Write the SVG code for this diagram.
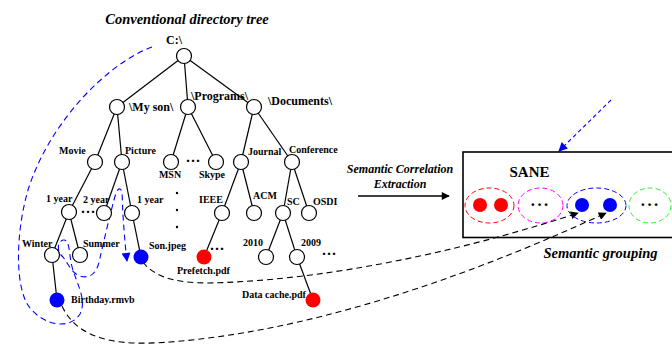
<svg xmlns="http://www.w3.org/2000/svg" width="672" height="344" viewBox="0 0 672 344">
<defs>
<style>
text{font-family:"Liberation Serif","Times New Roman",serif;font-weight:bold;fill:#000}
.t10{font-size:10px}
.t12{font-size:12px}
.ti{font-style:italic}
.n{fill:#fff;stroke:#000;stroke-width:1.2}
.e{stroke:#000;stroke-width:1.2;fill:none}
.bd{stroke:#0000ff;stroke-width:1.1;fill:none;stroke-dasharray:6 4}
.kd{stroke:#000;stroke-width:1.1;fill:none;stroke-dasharray:6 4}
.dots{font-size:15px}
</style>
<marker id="ak" viewBox="0 0 10 10" refX="9" refY="5" markerWidth="10" markerHeight="8" markerUnits="userSpaceOnUse" orient="auto"><path d="M0,0 L10,5 L0,10 z" fill="#000"/></marker>
<marker id="ab" viewBox="0 0 10 10" refX="9" refY="5" markerWidth="12" markerHeight="9" markerUnits="userSpaceOnUse" orient="auto"><path d="M0,0 L10,5 L0,10 z" fill="#0000ff"/></marker>
</defs>
<rect width="672" height="344" fill="#fff"/>
<text class="ti" x="187" y="24" font-size="14.5" text-anchor="middle">Conventional directory tree</text>

<g id="connectors">
<g class="e">
<line x1="184" y1="56" x2="117" y2="107"/>
<line x1="184" y1="56" x2="188" y2="107"/>
<line x1="184" y1="56" x2="254" y2="107"/>
<line x1="117" y1="107" x2="95" y2="162"/>
<line x1="117" y1="107" x2="122" y2="162"/>
<line x1="188" y1="107" x2="171" y2="162"/>
<line x1="188" y1="107" x2="216" y2="162"/>
<line x1="254" y1="107" x2="241" y2="162"/>
<line x1="254" y1="107" x2="292" y2="162"/>
<line x1="95" y1="162" x2="69" y2="212"/>
<line x1="122" y1="162" x2="104" y2="213"/>
<line x1="122" y1="162" x2="132" y2="213"/>
<line x1="241" y1="162" x2="222" y2="213"/>
<line x1="241" y1="162" x2="254" y2="213"/>
<line x1="292" y1="162" x2="283" y2="213"/>
<line x1="292" y1="162" x2="309" y2="213"/>
<line x1="69" y1="212" x2="52" y2="255"/>
<line x1="69" y1="212" x2="80" y2="255"/>
<line x1="132" y1="213" x2="141" y2="257"/>
<line x1="222" y1="213" x2="204" y2="257"/>
<line x1="283" y1="213" x2="266" y2="257"/>
<line x1="283" y1="213" x2="297" y2="257"/>
<line x1="52" y1="255" x2="57" y2="300"/>
<line x1="297" y1="257" x2="313" y2="300"/>
</g>
<path class="bd" d="M152,47 C110,62 50,120 28,190 C15,235 15,290 30,308 C45,326 70,330 80,314 C88,298 74,280 71,262 C69,250 69,240 64,240 C58,240 56,250 62,256 C68,262 70,272 80,276 C92,280 98,270 100,258 C104,240 110,215 114,200 C116,192 118,188 120,189 C123,190 122,200 123,215 C124,230 125,245 127,261" marker-end="url(#ab)"/>
<path class="kd" d="M143,262 C160,285 200,284 235,282 C330,277 450,255 578,213" marker-end="url(#ak)"/>
<path class="kd" d="M62,306 C80,345 130,345 170,342 C300,332 450,285 606,213" marker-end="url(#ak)"/>
<line x1="611" y1="100" x2="559" y2="151" stroke="#0000ff" stroke-width="1.1" stroke-dasharray="4 3" marker-end="url(#ab)"/>
<line x1="358" y1="196" x2="449" y2="196" stroke="#000" stroke-width="1.6" marker-end="url(#ak)"/>
</g>

<g id="n-root"><circle class="n" cx="184" cy="56" r="7.5"/><text class="t12" x="166" y="44">C:\</text></g>
<g id="n-myson"><circle class="n" cx="117" cy="107" r="7.5"/><text class="t12" x="129" y="111">\My son\</text></g>
<g id="n-programs"><circle class="n" cx="188" cy="107" r="7.5"/><text class="t12" x="191" y="100">\Programs\</text></g>
<g id="n-documents"><circle class="n" cx="254" cy="107" r="7.5"/><text class="t12" x="268" y="105">\Documents\</text></g>
<g id="n-movie"><circle class="n" cx="95" cy="162" r="7.5"/><text class="t10" x="59" y="154">Movie</text></g>
<g id="n-picture"><circle class="n" cx="122" cy="162" r="7.5"/><text class="t10" x="125" y="154">Picture</text></g>
<g id="n-msn"><circle class="n" cx="171" cy="162" r="7.5"/><text class="t10" x="170" y="178" text-anchor="middle">MSN</text></g>
<g id="n-skype"><circle class="n" cx="216" cy="162" r="7.5"/><text class="t10" x="212" y="178" text-anchor="middle">Skype</text></g>
<g id="n-journal"><circle class="n" cx="241" cy="162" r="7.5"/><text class="t10" x="248" y="155">Journal</text></g>
<g id="n-conference"><circle class="n" cx="292" cy="162" r="7.5"/><text class="t10" x="289" y="153">Conference</text></g>
<g id="n-1year-a"><circle class="n" cx="69" cy="212" r="7.5"/><text class="t10" x="46" y="202">1 year</text></g>
<g id="n-2year"><circle class="n" cx="104" cy="213" r="7.5"/><text class="t10" x="83" y="203">2 year</text></g>
<g id="n-1year-b"><circle class="n" cx="132" cy="213" r="7.5"/><text class="t10" x="137" y="203">1 year</text></g>
<g id="n-ieee"><circle class="n" cx="222" cy="213" r="7.5"/><text class="t10" x="199" y="203">IEEE</text></g>
<g id="n-acm"><circle class="n" cx="254" cy="213" r="7.5"/><text class="t10" x="253" y="199">ACM</text></g>
<g id="n-sc"><circle class="n" cx="283" cy="213" r="7.5"/><text class="t10" x="287" y="205">SC</text></g>
<g id="n-osdi"><circle class="n" cx="309" cy="213" r="7.5"/><text class="t10" x="313" y="205">OSDI</text></g>
<g id="n-winter"><circle class="n" cx="52" cy="255" r="7.5"/><text class="t10" x="22" y="247">Winter</text></g>
<g id="n-summer"><circle class="n" cx="80" cy="255" r="7.5"/><text class="t10" x="83" y="247">Summer</text></g>
<g id="n-sonjpeg"><circle cx="141" cy="257" r="7.5" fill="#0000ff"/><text class="t10" x="149" y="249">Son.jpeg</text></g>
<g id="n-prefetch"><circle cx="204" cy="257" r="7.5" fill="#ff0000"/><text class="t10" x="177" y="274">Prefetch.pdf</text></g>
<g id="n-2010"><circle class="n" cx="266" cy="257" r="7.5"/><text class="t10" x="243" y="246">2010</text></g>
<g id="n-2009"><circle class="n" cx="297" cy="257" r="7.5"/><text class="t10" x="301" y="246">2009</text></g>
<g id="n-datacache"><circle cx="313" cy="300" r="7.5" fill="#ff0000"/><text class="t10" x="242" y="298">Data cache.pdf</text></g>
<g id="n-birthday"><circle cx="57" cy="300" r="7.5" fill="#0000ff"/><text class="t10" x="71" y="303">Birthday.rmvb</text></g>

<g id="ellipsis">
<text class="dots" x="88" y="217" text-anchor="middle">···</text>
<text class="dots" x="193" y="166" text-anchor="middle">···</text>
<text class="dots" x="217" y="254" text-anchor="middle">···</text>
<text class="dots" x="329" y="259" text-anchor="middle">···</text>
<circle cx="177" cy="193" r="1.2"/>
<circle cx="177" cy="210" r="1.2"/>
<circle cx="177" cy="227" r="1.2"/>
</g>

<text class="ti t12" x="400" y="173" text-anchor="middle">Semantic Correlation</text>
<text class="ti t12" x="400" y="188" text-anchor="middle">Extraction</text>

<g id="sane">
<rect x="463" y="152" width="215" height="85.5" fill="none" stroke="#000" stroke-width="1.6"/>
<text x="529.5" y="177" font-size="15" text-anchor="middle">SANE</text>
<ellipse cx="489.5" cy="205.5" rx="24.5" ry="17.5" fill="none" stroke="#ff0000" stroke-width="1" stroke-dasharray="5 3"/>
<circle cx="480" cy="205" r="7" fill="#ff0000"/>
<circle cx="501" cy="205" r="7" fill="#ff0000"/>
<ellipse cx="540.5" cy="205.5" rx="22.5" ry="17.5" fill="none" stroke="#ff00ff" stroke-width="1" stroke-dasharray="5 3"/>
<text x="540" y="210" font-size="17" text-anchor="middle" letter-spacing="1">···</text>
<ellipse cx="596.5" cy="205.5" rx="29.5" ry="17.5" fill="none" stroke="#0000ff" stroke-width="1" stroke-dasharray="5 3"/>
<circle cx="582" cy="205" r="7" fill="#0000ff"/>
<circle cx="610" cy="205" r="7" fill="#0000ff"/>
<ellipse cx="650" cy="205.5" rx="21" ry="17.5" fill="none" stroke="#33ee33" stroke-width="1" stroke-dasharray="5 3"/>
<text x="650" y="210" font-size="17" text-anchor="middle" letter-spacing="1">···</text>
</g>
<text class="ti" x="600.5" y="258" font-size="14.5" text-anchor="middle">Semantic grouping</text>
</svg>
